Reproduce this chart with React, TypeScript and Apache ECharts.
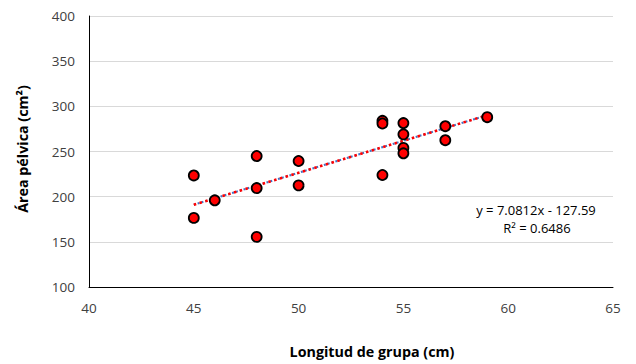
import React, { useEffect, useRef } from "react";
import * as echarts from "echarts";

const xValues = [45, 45, 46, 48, 48, 48, 50, 50, 54, 54, 54, 55, 55, 55, 55, 57, 57, 59];
const yValues = [223.5, 176.5, 196, 245, 209.5, 155.5, 239.5, 212.5, 284, 281, 224, 281.5, 269, 254, 248, 278, 262.5, 288];
const slope = 7.0812;
const intercept = -127.59;
const rSquared = 0.6486;
const trendRange = [45, 59];
const xTitle = "Longitud de grupa (cm)";
const yTitle = "Área pélvica (cm²)";

export default function App() {
  const ref = useRef<HTMLDivElement>(null);
  useEffect(() => {
    const chart = echarts.init(ref.current!, null, { renderer: "svg" });
    const points = xValues.map((x, i) => [x, yValues[i]]);
    const trend = trendRange.map((x) => [x, slope * x + intercept]);
    const font = "'Open Sans', 'Liberation Sans', sans-serif";
    chart.setOption({
      animation: false,
      backgroundColor: "#ffffff",
      grid: { left: 89, right: 23, top: 16, bottom: 77 },
      xAxis: {
        type: "value",
        min: 40,
        max: 65,
        interval: 5,
        axisLine: { show: true, onZero: false, lineStyle: { color: "#000", width: 1 } },
        axisTick: { show: false },
        axisLabel: { fontFamily: font, fontSize: 13.5, color: "#404040", margin: 14 },
        splitLine: { show: false },
      },
      yAxis: {
        type: "value",
        min: 100,
        max: 400,
        interval: 50,
        axisLine: { show: true, onZero: false, lineStyle: { color: "#000", width: 1 } },
        axisTick: { show: false },
        axisLabel: { fontFamily: font, fontSize: 13.5, color: "#404040", margin: 14 },
        splitLine: { show: true, lineStyle: { color: "#d9d9d9", width: 1 } },
      },
      series: [
        {
          type: "line",
          data: trend,
          showSymbol: false,
          symbol: "none",
          lineStyle: { color: "#4472c4", width: 2, type: [2, 2] },
          z: 3,
        },
        {
          type: "line",
          data: trend,
          showSymbol: false,
          symbol: "none",
          lineStyle: { color: "#ff0000", width: 2.5, type: [2.5, 3.5] },
          z: 4,
        },
        {
          type: "scatter",
          data: points,
          symbol: "circle",
          symbolSize: 10,
          itemStyle: { color: "#ff0000", borderColor: "#000", borderWidth: 1.8, opacity: 1 },
          z: 5,
        },
      ],
      graphic: [
        {
          type: "text",
          x: 372,
          y: 351,
          style: {
            text: xTitle,
            fontFamily: font,
            fontSize: 14.3,
            fontWeight: "bold",
            fill: "#000",
            textAlign: "center",
            textVerticalAlign: "middle",
          },
        },
        {
          type: "text",
          x: 22,
          y: 149,
          rotation: Math.PI / 2,
          style: {
            text: yTitle,
            fontFamily: font,
            fontSize: 14.3,
            fontWeight: "bold",
            fill: "#000",
            textAlign: "center",
            textVerticalAlign: "middle",
          },
        },
        {
          type: "text",
          x: 536,
          y: 210,
          style: {
            text: `y = ${slope}x - ${Math.abs(intercept)}`,
            fontFamily: font,
            fontSize: 13,
            fill: "#000",
            textAlign: "center",
            textVerticalAlign: "middle",
          },
        },
        {
          type: "text",
          x: 537,
          y: 228,
          style: {
            text: `R² = ${rSquared}`,
            fontFamily: font,
            fontSize: 13,
            fill: "#000",
            textAlign: "center",
            textVerticalAlign: "middle",
          },
        },
      ],
    });
    return () => chart.dispose();
  }, []);
  return (
    <div
      ref={ref}
      style={{ position: "fixed", left: 0, top: 0, width: 636, height: 364, background: "#fff" }}
    />
  );
}
